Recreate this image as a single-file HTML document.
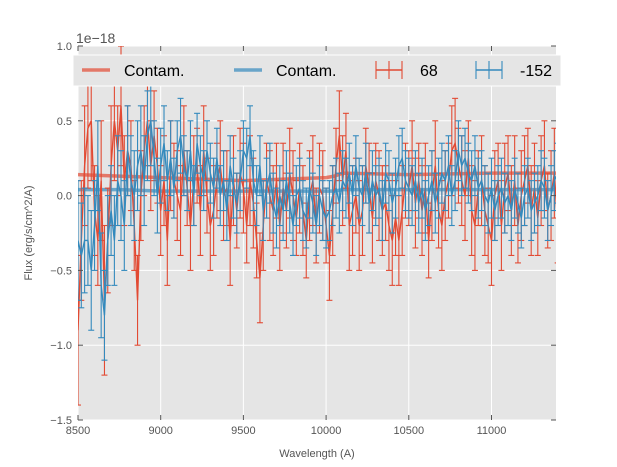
<!DOCTYPE html>
<html><head><meta charset="utf-8"><style>
html,body{margin:0;padding:0;background:#fff;}
svg{display:block;font-family:"Liberation Sans",sans-serif;}
</style></head><body>
<svg id="chart" width="617" height="467"></svg>
<script>
const wlStart = 8500, wlStep = 20;
const redFlux = [-0.9,-0.3,0.2,0.45,0.5,-0.1,-0.3,0.1,-0.7,-0.3,0.2,0.5,0.3,0.6,0.1,0.3,0.2,-0.2,-0.7,0.0,0.3,0.5,0.2,0.4,0.2,
-0.1,0.1,-0.3,0.2,0.1,0.0,-0.1,0.3,0.05,-0.2,0.1,0.2,-0.1,0.3,0.0,-0.2,-0.1,0.1,0.2,0.0,0.05,-0.3,0.1,-0.1,0.15,
0.05,-0.2,0.1,-0.05,-0.3,-0.55,-0.2,0.1,0.0,-0.1,0.1,-0.2,0.05,-0.1,0.15,0.0,-0.15,0.05,-0.1,-0.3,0.0,0.1,-0.2,0.05,0.0,
-0.2,-0.4,-0.1,0.2,0.4,0.1,0.3,-0.2,-0.1,0.0,-0.2,-0.1,0.2,0.05,-0.15,0.1,0.0,-0.1,-0.05,-0.2,-0.3,-0.15,-0.3,-0.1,0.1,
0.05,0.2,-0.05,0.1,-0.1,0.05,-0.3,0.0,0.2,-0.1,-0.2,0.0,0.1,0.3,0.35,0.2,0.1,0.0,0.25,-0.1,-0.2,0.05,0.1,-0.1,-0.2,
-0.3,0.0,0.1,-0.2,0.05,0.15,-0.1,0.1,-0.2,0.0,0.1,0.2,-0.1,0.05,-0.15,0.1,0.2,-0.1,0.0,0.15,-0.2];
const redErr = [0.5,0.4,0.4,0.4,0.4,0.3,0.3,0.4,0.5,0.35,0.4,0.4,0.3,0.4,0.3,0.3,0.3,0.3,0.3,0.3,0.3,0.3,0.3,0.3,0.25,
0.3,0.3,0.3,0.3,0.25,0.3,0.3,0.3,0.25,0.3,0.3,0.25,0.3,0.3,0.25,0.3,0.3,0.25,0.3,0.3,0.25,0.3,0.3,0.25,0.3,
0.3,0.25,0.3,0.3,0.25,0.3,0.3,0.25,0.3,0.3,0.25,0.3,0.3,0.25,0.3,0.3,0.25,0.3,0.3,0.25,0.3,0.3,0.25,0.3,0.3,
0.25,0.3,0.3,0.25,0.3,0.3,0.25,0.3,0.3,0.25,0.3,0.3,0.25,0.3,0.3,0.25,0.3,0.3,0.25,0.3,0.3,0.25,0.3,0.3,0.25,
0.25,0.3,0.3,0.25,0.3,0.3,0.25,0.3,0.3,0.25,0.3,0.3,0.25,0.3,0.3,0.25,0.3,0.3,0.25,0.3,0.3,0.25,0.3,0.3,0.25,
0.3,0.3,0.25,0.3,0.3,0.25,0.3,0.3,0.25,0.3,0.3,0.25,0.3,0.3,0.25,0.3,0.3,0.25,0.3,0.3,0.25];
const blueFlux = [-0.3,-0.4,-0.3,-0.3,-0.5,-0.2,0.2,-0.6,-0.8,-0.3,-0.1,-0.3,0.1,0.0,-0.2,0.3,0.1,0.0,0.2,0.3,0.1,0.4,0.5,0.25,0.0,
0.2,0.35,0.1,0.25,0.05,0.3,0.4,0.2,0.1,0.3,0.0,0.35,0.2,0.1,0.3,0.15,0.05,0.25,0.0,0.1,-0.1,0.2,0.05,-0.05,0.1,
0.3,0.25,0.4,0.1,0.0,0.2,-0.1,0.05,0.15,-0.05,-0.15,0.0,-0.1,0.1,-0.05,-0.2,0.0,0.05,-0.1,-0.15,0.05,-0.05,-0.2,0.0,-0.1,
-0.15,-0.1,0.0,0.05,-0.05,0.1,0.05,0.15,0.0,0.2,0.05,0.0,0.15,-0.05,0.1,0.0,0.05,-0.1,0.15,0.1,-0.05,0.05,0.2,0.25,0.1,
0.05,0.0,0.1,-0.05,0.05,-0.1,0.0,0.1,-0.05,0.05,0.15,0.1,0.2,0.0,0.1,0.3,0.2,0.25,0.15,0.1,0.2,0.05,0.1,0.0,-0.05,
0.05,-0.1,0.0,0.05,-0.05,0.0,-0.1,0.05,-0.05,-0.15,0.0,0.05,-0.1,-0.05,0.0,0.1,0.05,-0.1,0.0,0.1,0.15];
const blueErr = [0.4,0.35,0.35,0.3,0.4,0.3,0.3,0.35,0.3,0.3,0.3,0.3,0.3,0.3,0.3,0.3,0.3,0.3,0.3,0.3,0.3,0.3,0.3,0.25,0.25,
0.25,0.25,0.2,0.25,0.2,0.2,0.25,0.2,0.2,0.2,0.2,0.2,0.2,0.2,0.2,0.2,0.2,0.2,0.2,0.2,0.2,0.2,0.2,0.2,0.2,
0.2,0.2,0.2,0.2,0.2,0.2,0.2,0.2,0.2,0.2,0.2,0.2,0.2,0.2,0.2,0.2,0.2,0.2,0.2,0.2,0.2,0.2,0.2,0.2,0.2,
0.2,0.2,0.2,0.2,0.2,0.2,0.2,0.2,0.2,0.2,0.2,0.2,0.2,0.2,0.2,0.2,0.2,0.2,0.2,0.2,0.2,0.2,0.2,0.2,0.2,
0.2,0.2,0.2,0.2,0.2,0.2,0.2,0.2,0.2,0.2,0.2,0.2,0.2,0.2,0.2,0.2,0.2,0.2,0.2,0.2,0.2,0.2,0.2,0.2,0.2,
0.2,0.2,0.2,0.2,0.2,0.2,0.2,0.2,0.2,0.2,0.2,0.2,0.2,0.2,0.2,0.2,0.2,0.2,0.2,0.2,0.2];
const contamX = [8500,8750,9000,9250,9500,9750,10000,10050,10100,10500,11000,11400];
const contamRed = [0.14,0.13,0.12,0.11,0.10,0.11,0.12,0.13,0.15,0.14,0.15,0.15];
const contamBlue = [0.04,0.04,0.03,0.03,0.03,0.03,0.03,0.03,0.04,0.04,0.04,0.04];
const xTicks = [8500,9000,9500,10000,10500,11000];
const yTicks = [-1.5,-1.0,-0.5,0.0,0.5,1.0];
const yTickLabels = ["\u22121.5","\u22121.0","\u22120.5","0.0","0.5","1.0"];

const L=78,R=556,T=46,B=420, xMin=8500,xMax=11390,yMin=-1.5,yMax=1.0;
const sx=v=>L+(v-xMin)/(xMax-xMin)*(R-L);
const sy=v=>B-(v-yMin)/(yMax-yMin)*(B-T);
const svg=document.getElementById('chart'),NS='http://www.w3.org/2000/svg';
function mk(tag,attrs,parent){const e=document.createElementNS(NS,tag);for(const k in attrs)e.setAttribute(k,attrs[k]);(parent||svg).appendChild(e);return e;}

let bg=mk('rect',{x:L,y:T,width:R-L,height:B-T,fill:'#e5e5e5'});


const grid=mk('g',{});


xTicks.forEach(t=>{mk('line',{x1:sx(t),x2:sx(t),y1:T,y2:B,stroke:'#fff','stroke-width':1},grid);});
yTicks.forEach(t=>{mk('line',{x1:L,x2:R,y1:sy(t),y2:sy(t),stroke:'#fff','stroke-width':1},grid);});

const clip=mk('clipPath',{id:'pc'});mk('rect',{x:L,y:T,width:R-L,height:B-T},clip);
const plot=mk('g',{'clip-path':'url(#pc)'});

function contam(arr,color,name){
  const p=mk('polyline',{points:contamX.map((x,i)=>sx(x)+','+sy(arr[i])).join(' '),fill:'none',stroke:color,'stroke-width':3.5,'stroke-opacity':0.7},plot);
  
  
}
function series(flux,err,color,name){
  const g=mk('g',{},plot);
  
  
  flux.forEach((v,i)=>{const x=sx(wlStart+i*wlStep),y1=sy(v-err[i]),y2=sy(v+err[i]);
    mk('line',{x1:x,x2:x,y1:y1,y2:y2,stroke:color,'stroke-width':1.1},g);
    mk('line',{x1:x-3,x2:x+3,y1:y1,y2:y1,stroke:color,'stroke-width':1.1},g);
    mk('line',{x1:x-3,x2:x+3,y1:y2,y2:y2,stroke:color,'stroke-width':1.1},g);});
  mk('polyline',{points:flux.map((v,i)=>sx(wlStart+i*wlStep)+','+sy(v)).join(' '),fill:'none',stroke:color,'stroke-width':1.4},g);
}
contam(contamRed,'#E24A33','contam-line-68');
contam(contamBlue,'#348ABD','contam-line-152');
series(redFlux,redErr,'#E24A33','series-68');
series(blueFlux,blueErr,'#348ABD','series-152');

const ax=mk('g',{font_size:11});


xTicks.forEach(t=>{const x=sx(t);
  mk('line',{x1:x,x2:x,y1:B,y2:B-5,stroke:'#555'},ax);mk('line',{x1:x,x2:x,y1:T,y2:T+5,stroke:'#555'},ax);
  const tx=mk('text',{x:x,y:B+14,'text-anchor':'middle','font-size':11,fill:'#555'},ax);tx.textContent=t;
  
  });
yTicks.forEach((t,i)=>{const y=sy(t);
  mk('line',{x1:L,x2:L+5,y1:y,y2:y,stroke:'#555'},ax);mk('line',{x1:R,x2:R-5,y1:y,y2:y,stroke:'#555'},ax);
  const tx=mk('text',{x:L-6,y:y+4,'text-anchor':'end','font-size':11,fill:'#555'},ax);tx.textContent=yTickLabels[i];
  
  });
let t1=mk('text',{x:76,y:43,'font-size':14,fill:'#555'});t1.textContent='1e\u221218';


let xt=mk('text',{x:(L+R)/2,y:457,'text-anchor':'middle','font-size':11,fill:'#555'});xt.textContent='Wavelength (A)';


let yt=mk('text',{x:0,y:0,'text-anchor':'middle','font-size':11,fill:'#555',transform:'translate(32,233) rotate(-90)'});yt.textContent='Flux (erg/s/cm^2/A)';



const lg=mk('g',{});


mk('rect',{x:73,y:55,width:488,height:31,fill:'#e5e5e5',stroke:'#fff','stroke-width':1},lg);
function legEntry(x,color,label,isErr,name){
  const g=mk('g',{},lg);
  
  
  if(isErr){mk('line',{x1:x,x2:x+26,y1:70,y2:70,stroke:color,'stroke-width':1.4},g);
    [x,x+26].forEach(xx=>mk('line',{x1:xx,x2:xx,y1:61,y2:79,stroke:color,'stroke-width':1.1},g));
    mk('line',{x1:x+13,x2:x+13,y1:61,y2:79,stroke:color,'stroke-width':1.1},g);}
  else mk('line',{x1:x,x2:x+28,y1:70,y2:70,stroke:color,'stroke-width':3.5,'stroke-opacity':0.7},g);
  const t=mk('text',{x:x+(isErr?44:42),y:76,'font-size':16,fill:'#000'},g);t.textContent=label;
}
legEntry(82,'#E24A33','Contam.',false,'legend-contam-68');
legEntry(234,'#348ABD','Contam.',false,'legend-contam-152');
legEntry(376,'#E24A33','68',true,'legend-68');
legEntry(476,'#348ABD','-152',true,'legend-152');
</script>
</body></html>
